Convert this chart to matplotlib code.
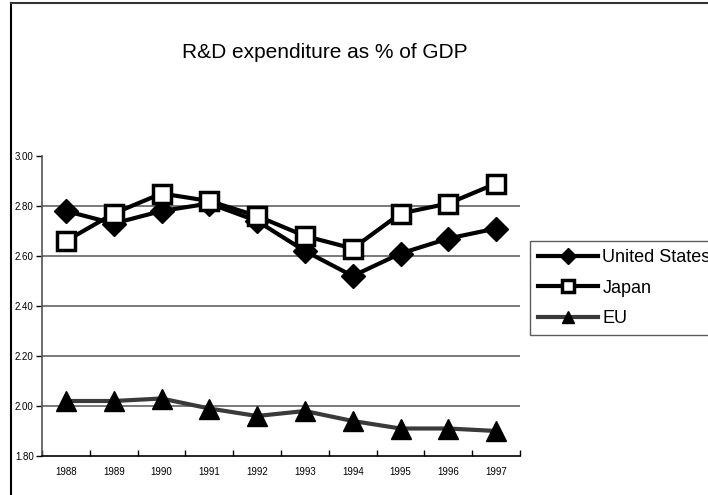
import matplotlib
matplotlib.use('Agg')
import matplotlib.pyplot as plt
import matplotlib.ticker as ticker
from matplotlib.lines import Line2D

YEARS = ['1988', '1989', '1990', '1991', '1992', '1993', '1994', '1995', '1996', '1997']
US = [2.78, 2.73, 2.78, 2.81, 2.74, 2.62, 2.52, 2.61, 2.67, 2.71]
JAPAN = [2.66, 2.77, 2.85, 2.82, 2.76, 2.68, 2.63, 2.77, 2.81, 2.89]
EU = [2.02, 2.02, 2.03, 1.99, 1.96, 1.98, 1.94, 1.91, 1.91, 1.90]
Y_TICKS = [1.80, 2.00, 2.20, 2.40, 2.60, 2.80, 3.00]

plt.rcParams['font.family'] = ['Liberation Sans', 'DejaVu Sans']

fig = plt.figure(figsize=(7.08, 4.95), dpi=100)
ax = fig.add_axes([42 / 708, 1 - 456 / 495, 478 / 708, 300 / 495])

x = list(range(len(YEARS)))

# grid lines (no line at the top value)
for v in Y_TICKS[1:-1]:
    ax.axhline(v, color='#555555', lw=1.1, zorder=1)

ax.plot(x, US, color='black', lw=3, marker='D', ms=12, mfc='black', mec='black',
        label='United States', zorder=3)
ax.plot(x, JAPAN, color='black', lw=3, marker='s', ms=12.5, mfc='white', mec='black',
        mew=2.5, label='Japan', zorder=4)
ax.plot(x, EU, color='#3a3a3a', lw=3, marker='^', ms=14, mfc='black', mec='black',
        label='EU', zorder=3)

ax.set_xlim(-0.5, len(YEARS) - 0.5)
ax.set_ylim(1.80, 3.00)
ax.set_yticks(Y_TICKS)
ax.yaxis.set_major_formatter(ticker.FormatStrFormatter('%.2f'))
ax.set_xticks(x)
ax.set_xticklabels(YEARS)
ax.xaxis.set_minor_locator(ticker.FixedLocator([i - 0.5 for i in range(len(YEARS) + 1)]))
ax.tick_params(axis='x', which='major', length=0, labelsize=7, pad=8)
ax.tick_params(axis='x', which='minor', length=4, width=1, direction='in')
ax.tick_params(axis='y', length=4, width=1, direction='out', labelsize=7, pad=2)

for s in ['top', 'right']:
    ax.spines[s].set_visible(False)
ax.spines['left'].set_color('#555555')
ax.spines['bottom'].set_color('black')
ax.spines['left'].set_linewidth(1.2)
ax.spines['bottom'].set_linewidth(1.2)

fig.text(325 / 708, 1 - 52 / 495, 'R&D expenditure as % of GDP', ha='center', va='center',
         fontsize=15)

leg = fig.legend(loc='upper left', bbox_to_anchor=(530 / 708, 1 - 241 / 495),
                 frameon=True, fancybox=False, edgecolor='#333333', fontsize=13,
                 handlelength=3.3, handletextpad=0.25, labelspacing=0.75,
                 borderpad=0.45, borderaxespad=0, markerscale=0.65)
leg.get_frame().set_linewidth(1.0)

# outer chart frame
fig.add_artist(Line2D([11 / 708, 11 / 708], [0, 1 - 3 / 495], color='black', lw=1.5))
fig.add_artist(Line2D([11 / 708, 1], [1 - 3 / 495, 1 - 3 / 495], color='#333333', lw=1.5))

fig.savefig('out.png', dpi=100)
